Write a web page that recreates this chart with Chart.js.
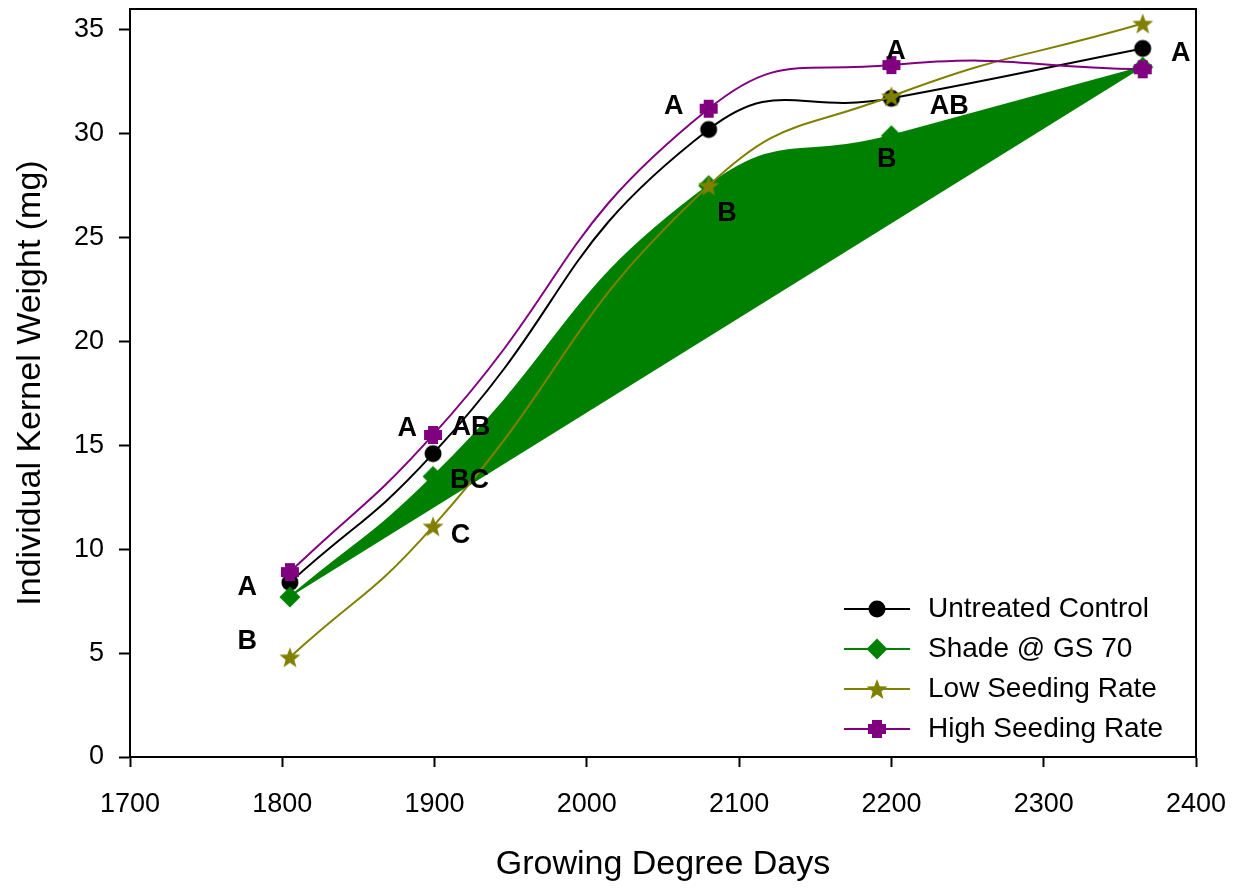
<!DOCTYPE html>
<html>
<head>
<meta charset="utf-8">
<script src="https://cdn.jsdelivr.net/npm/chart.js@4/dist/chart.umd.min.js"></script>
<style>
  html, body { margin: 0; padding: 0; background: #fff; }
  #wrap { width: 1243px; height: 890px; }
</style>
</head>
<body>
<div id="wrap"><canvas id="kernelChart" width="1243" height="890"></canvas></div>
<script>
// data
const gdd = [1805, 1899, 2080, 2200, 2365];
const untreated = [8.4, 14.6, 30.2, 31.7, 34.1];
const shade = [7.7, 13.5, 27.5, 29.9, 33.2];
const lowSeeding = [4.8, 11.1, 27.5, 31.8, 35.3];
const highSeeding = [8.9, 15.5, 31.2, 33.3, 33.1];

const seriesNames = ['Untreated Control', 'Shade @ GS 70', 'Low Seeding Rate', 'High Seeding Rate'];
const xTicks = [1700, 1800, 1900, 2000, 2100, 2200, 2300, 2400];
const yTicks = [0, 5, 10, 15, 20, 25, 30, 35];

// significance letters (text, x, y in data units)
const letterText = ['A', 'B', 'A', 'AB', 'BC', 'C', 'A', 'B', 'A', 'AB', 'B', 'A'];
const letterX = [1777, 1777, 1882, 1924, 1923, 1917, 2057, 2092, 2203, 2238, 2197, 2390];
const letterY = [8.16, 5.55, 15.83, 15.85, 13.29, 10.65, 31.31, 26.16, 33.93, 31.31, 28.76, 33.88];

const FONT = '"Liberation Sans", Arial, sans-serif';

// small canvases used as point markers
function makeMarker(size, draw) {
  const c = document.createElement('canvas');
  c.width = size; c.height = size;
  const g = c.getContext('2d');
  draw(g, size / 2);
  return c;
}
const circleMark = makeMarker(20, function(g, h) {
  g.fillStyle = '#000000';
  g.beginPath(); g.arc(h, h, 8.5, 0, Math.PI * 2); g.fill();
});
const diamondMark = makeMarker(24, function(g, h) {
  g.fillStyle = '#008000';
  g.beginPath();
  g.moveTo(h, h - 10.5); g.lineTo(h + 10.5, h); g.lineTo(h, h + 10.5); g.lineTo(h - 10.5, h);
  g.closePath(); g.fill();
});
const starMark = makeMarker(24, function(g, h) {
  g.fillStyle = '#808000';
  g.beginPath();
  for (let i = 0; i < 10; i++) {
    const r = i % 2 === 0 ? 11 : 4.6;
    const a = -Math.PI / 2 + i * Math.PI / 5;
    const px = h + r * Math.cos(a), py = h + 1 + r * Math.sin(a);
    if (i === 0) g.moveTo(px, py); else g.lineTo(px, py);
  }
  g.closePath(); g.fill();
});
const plusMark = makeMarker(20, function(g, h) {
  g.fillStyle = '#800080';
  g.fillRect(h - 5, h - 9, 10, 18);
  g.fillRect(h - 9, h - 5, 18, 10);
});

function toPoints(ys) {
  return gdd.map((x, i) => ({x: x, y: ys[i]}));
}

// letters drawn at data positions
const lettersPlugin = {
  id: 'letters',
  afterDatasetsDraw(chart) {
    const ctx = chart.ctx;
    const xs = chart.scales.x, ys = chart.scales.y;
    ctx.save();
    ctx.fillStyle = '#000';
    ctx.font = 'bold 27px ' + FONT;
    ctx.textAlign = 'center';
    ctx.textBaseline = 'middle';
    letterText.forEach((t, i) => {
      ctx.fillText(t, xs.getPixelForValue(letterX[i]), ys.getPixelForValue(letterY[i]));
    });
    ctx.restore();
  }
};

// box round the plot + legend in lower right
const framePlugin = {
  id: 'frame',
  afterDraw(chart) {
    const ctx = chart.ctx;
    const a = chart.chartArea;
    ctx.save();
    ctx.strokeStyle = '#000';
    ctx.lineWidth = 2;
    ctx.beginPath();
    ctx.moveTo(a.left, a.top); ctx.lineTo(a.right, a.top); ctx.lineTo(a.right, a.bottom);
    ctx.stroke();

    const marks = [circleMark, diamondMark, starMark, plusMark];
    ctx.font = '28px ' + FONT;
    ctx.textAlign = 'left';
    ctx.textBaseline = 'middle';
    chart.data.datasets.forEach((ds, i) => {
      const y = a.bottom - 148 + i * 40;
      const x0 = a.right - 352, x1 = a.right - 286;
      ctx.strokeStyle = ds.borderColor;
      ctx.lineWidth = 2;
      ctx.beginPath(); ctx.moveTo(x0, y); ctx.lineTo(x1, y); ctx.stroke();
      const m = marks[i];
      ctx.drawImage(m, (x0 + x1) / 2 - m.width / 2, y - m.height / 2);
      ctx.fillStyle = '#000';
      ctx.fillText(seriesNames[i], a.right - 268, y);
    });
    ctx.restore();
  }
};

new Chart(document.getElementById('kernelChart'), {
  type: 'line',
  data: {
    datasets: [
      {
        label: seriesNames[0],
        data: toPoints(untreated),
        borderColor: '#000000',
        borderWidth: 2,
        pointStyle: circleMark,
        tension: 0.5,
        fill: false,
        order: 4
      },
      {
        label: seriesNames[1],
        data: toPoints(shade),
        borderColor: '#008000',
        backgroundColor: '#008000',
        borderWidth: 2,
        pointStyle: diamondMark,
        tension: 0.5,
        fill: 'shape',
        order: 3
      },
      {
        label: seriesNames[2],
        data: toPoints(lowSeeding),
        borderColor: '#808000',
        borderWidth: 2,
        pointStyle: starMark,
        tension: 0.5,
        fill: false,
        order: 2
      },
      {
        label: seriesNames[3],
        data: toPoints(highSeeding),
        borderColor: '#800080',
        borderWidth: 2,
        pointStyle: plusMark,
        tension: 0.5,
        fill: false,
        order: 1
      }
    ]
  },
  options: {
    responsive: false,
    animation: false,
    layout: { padding: { top: 9, right: 47, left: 0, bottom: 0 } },
    plugins: {
      legend: { display: false },
      tooltip: { enabled: false }
    },
    scales: {
      x: {
        type: 'linear',
        min: 1700,
        max: 2400,
        afterBuildTicks(scale) { scale.ticks = xTicks.map(v => ({value: v})); },
        afterFit(scale) { scale.height = 133; scale.paddingLeft = 0; scale.paddingRight = 0; },
        grid: { drawOnChartArea: false, drawTicks: true, tickLength: 10, tickColor: '#000', tickWidth: 2 },
        border: { display: true, color: '#000', width: 2 },
        ticks: {
          color: '#000',
          font: { family: FONT, size: 27 },
          padding: 21,
          maxRotation: 0,
          callback: v => String(v)
        },
        title: {
          display: true,
          text: 'Growing Degree Days',
          color: '#000',
          font: { family: FONT, size: 34 },
          padding: { top: 0, bottom: 5 }
        }
      },
      y: {
        min: 0,
        max: 36,
        afterBuildTicks(scale) { scale.ticks = yTicks.map(v => ({value: v})); },
        afterFit(scale) { scale.width = 130; scale.paddingTop = 0; scale.paddingBottom = 0; },
        grid: { drawOnChartArea: false, drawTicks: true, tickLength: 11, tickColor: '#000', tickWidth: 2 },
        border: { display: true, color: '#000', width: 2 },
        ticks: {
          color: '#000',
          font: { family: FONT, size: 27 },
          padding: 15,
          callback: v => String(v)
        },
        title: {
          display: true,
          text: 'Individual Kernel Weight (mg)',
          color: '#000',
          font: { family: FONT, size: 34 },
          padding: { top: 10, bottom: 0 }
        }
      }
    }
  },
  plugins: [lettersPlugin, framePlugin]
});
</script>
</body>
</html>
